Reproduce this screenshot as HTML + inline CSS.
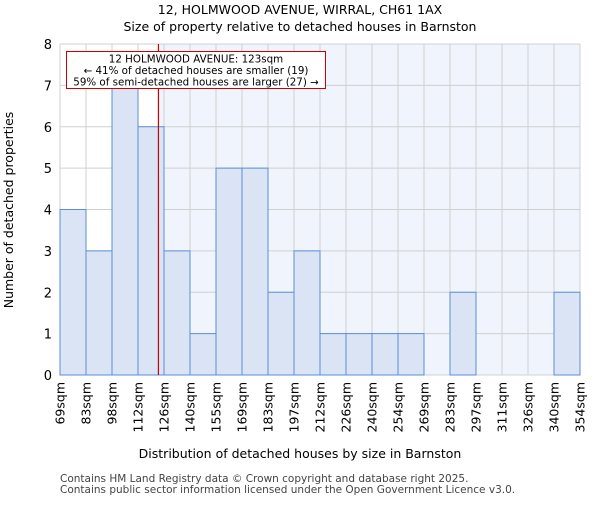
<!DOCTYPE html>
<html><head><meta charset="utf-8"><style>body{margin:0;background:#fff}svg{font-family:"DejaVu Sans","Liberation Sans",sans-serif}</style></head>
<body>
<svg id="c" width="600" height="500">
<text x="300" y="14" text-anchor="middle" font-size="12.5">12, HOLMWOOD AVENUE, WIRRAL, CH61 1AX</text>
<text x="300" y="31" text-anchor="middle" font-size="12.5">Size of property relative to detached houses in Barnston</text>
<g id="plot"></g>
<text x="300" y="458" text-anchor="middle" font-size="12.5">Distribution of detached houses by size in Barnston</text>
<text transform="translate(13,210) rotate(-90)" text-anchor="middle" font-size="12.5">Number of detached properties</text>
<text x="60" y="482" font-size="10.5" fill="#444">Contains HM Land Registry data © Crown copyright and database right 2025.</text>
<text x="60" y="493" font-size="10.5" fill="#444">Contains public sector information licensed under the Open Government Licence v3.0.</text>
</svg>
<script>
const categories=["69sqm","83sqm","98sqm","112sqm","126sqm","140sqm","155sqm","169sqm","183sqm","197sqm","212sqm","226sqm","240sqm","254sqm","269sqm","283sqm","297sqm","311sqm","326sqm","340sqm","354sqm"];
const counts=[4,3,7,6,3,1,5,5,2,3,1,1,1,1,0,2,0,0,0,2];
const yTicks=[0,1,2,3,4,5,6,7,8];
const edges=[69,83,98,112,126,140,155,169,183,197,212,226,240,254,269,283,297,311,326,340,354];
const subject=123;
const X0=60,X1=580,Y0=375,Y1=44,YMAX=8;
const ns="http://www.w3.org/2000/svg";
const g=document.getElementById('plot');
const bw=(X1-X0)/counts.length;
const xi=i=>X0+i*bw;
const y=v=>Y0-(v/YMAX)*(Y0-Y1);
function el(t,a){const e=document.createElementNS(ns,t);for(const k in a)e.setAttribute(k,a[k]);g.appendChild(e);return e;}
let si=0;for(let i=0;i<edges.length-1;i++){if(subject>=edges[i]&&subject<=edges[i+1]){si=i;break;}}
const sx=xi(si)+bw*(subject-edges[si])/(edges[si+1]-edges[si]);
let r=el('rect',{x:X0,y:Y1,width:X1-X0,height:Y0-Y1,fill:'#fff'});


r=el('rect',{x:sx,y:Y1,width:X1-sx,height:Y0-Y1,fill:'#f0f4fc'});


for(let i=0;i<categories.length;i++){const l=el('line',{x1:xi(i),x2:xi(i),y1:Y1,y2:Y0,stroke:'#d0d0d0','stroke-width':1});

}
yTicks.forEach(t=>{const l=el('line',{x1:X0,x2:X1,y1:y(t),y2:y(t),stroke:'#d0d0d0','stroke-width':1});


const tx=el('text',{x:X0-8,y:y(t)+5,'text-anchor':'end','font-size':13});tx.textContent=t;

});
counts.forEach((v,i)=>{if(v<=0)return;const b=el('rect',{x:xi(i),y:y(v),width:bw,height:Y0-y(v),fill:'#dae4f4',stroke:'#5b8fd6','stroke-width':1});

});
categories.forEach((c,i)=>{const t=el('text',{transform:`translate(${xi(i)+4.5},382) rotate(-90)`,'text-anchor':'end','font-size':12.5});t.textContent=c;

});
const ml=el('line',{x1:sx,x2:sx,y1:Y1,y2:Y0,stroke:'#cc0000','stroke-width':1.2});


const bx=el('rect',{x:66.5,y:51.5,width:259,height:37,fill:'#fff',stroke:'#cc0000','stroke-width':1});


["12 HOLMWOOD AVENUE: 123sqm","← 41% of detached houses are smaller (19)","59% of semi-detached houses are larger (27) →"].forEach((s,k)=>{const t=el('text',{x:196,y:62.5+k*11.5,'text-anchor':'middle','font-size':10.3});t.textContent=s;

});
</script>
</body></html>
